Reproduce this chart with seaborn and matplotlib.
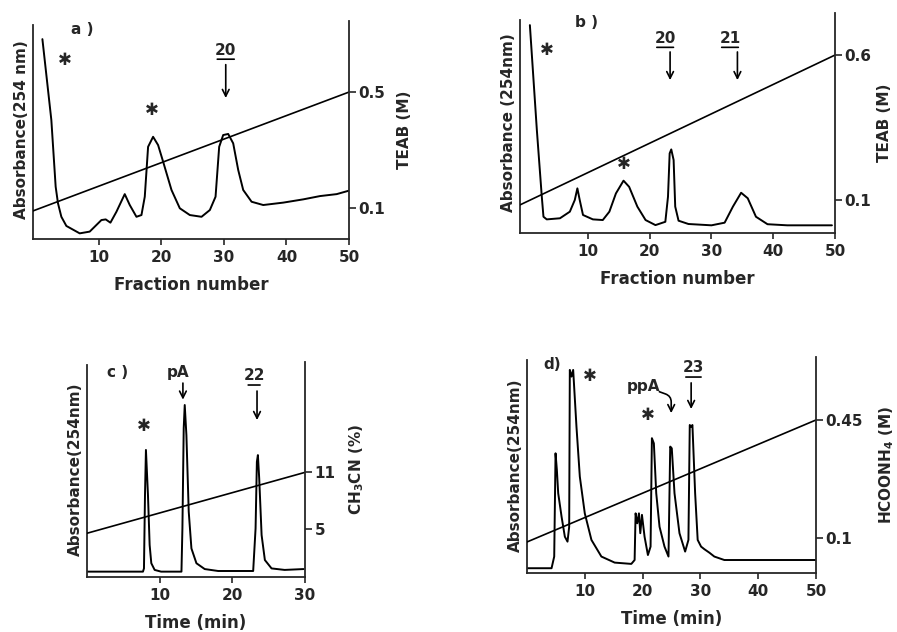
import numpy as np
import pandas as pd
import seaborn as sns
import matplotlib.pyplot as plt

# ---- panel a: fraction number vs absorbance, TEAB gradient
a_frac = [1.0, 2.43, 3.12, 3.49, 4.03, 4.83, 6.96, 8.56, 10.43, 11.12, 11.87, 12.83, 14.16,
          14.96, 16.03, 16.83, 17.36, 17.89, 18.69, 19.49, 20.29, 21.63, 22.96, 24.56,
          26.43, 27.76, 28.67, 29.25, 29.89, 30.69, 31.49, 32.29, 33.09, 34.43, 36.29,
          39.49, 42.69, 45.36, 48.03, 50.0]
a_abs = [91.7, 54.6, 24.0, 16.4, 10.2, 6.0, 2.6, 3.4, 8.7, 9.0, 7.5, 12.5, 20.6,
         15.6, 10.2, 11.0, 19.4, 42.3, 46.9, 43.1, 35.5, 22.5, 14.1, 11.0,
         10.2, 13.3, 19.4, 42.3, 47.7, 48.2, 43.9, 31.7, 22.5, 17.1, 15.6,
         16.7, 18.2, 19.7, 20.6, 22.2]
a_grad_x = [-0.5, 50]
a_grad_y = [0.09, 0.5]

# ---- panel b
b_frac = [0.6, 1.73, 2.53, 2.8, 3.33, 5.47, 7.07, 7.87, 8.29, 8.67, 9.2, 10.8, 12.4,
          13.47, 14.53, 15.76, 16.67, 18.0, 19.33, 20.93, 22.53, 22.96, 23.23, 23.49,
          23.87, 24.13, 24.67, 26.27, 30.0, 32.13, 33.47, 34.8, 35.87, 37.2, 39.07,
          42.27, 49.5]
b_abs = [94.5, 46.8, 16.5, 7.4, 6.2, 6.7, 9.7, 15.0, 20.3, 15.0, 8.2, 6.2, 5.9,
         9.7, 18.0, 23.8, 21.0, 12.0, 5.9, 3.6, 5.1, 16.5, 36.2, 38.0,
         33.2, 12.0, 5.6, 4.1, 3.5, 4.7, 12.0, 18.3, 15.8, 7.4, 4.0,
         3.5, 3.5]
b_grad_x = [-1, 50]
b_grad_y = [0.083, 0.6]

# ---- panel c: HPLC, CH3CN gradient
c_time = [0, 7.7, 7.84, 7.98, 8.11, 8.39, 8.62, 8.85, 9.31, 10.2, 13.0, 13.13, 13.31, 13.45,
          13.68, 14.0, 14.37, 15.06, 16.2, 18.05, 22.87, 23.2, 23.38, 23.52, 23.7, 24.03,
          24.48, 25.4, 27.2, 29.8]
c_abs = [2.5, 2.5, 4.0, 38.1, 59.1, 38.1, 14.9, 6.4, 3.3, 2.5, 2.5, 22.6, 69.2, 80.0,
         66.0, 30.4, 13.3, 6.4, 3.7, 2.8, 2.8, 22.6, 53.6, 56.7, 45.9, 19.5,
         7.9, 4.0, 3.3, 3.7]
c_grad_x = [0, 30]
c_grad_y = [4.6, 11]

# ---- panel d: HPLC, HCOONH4 gradient
d_time = [0, 4.25, 4.71, 4.94, 5.17, 5.4, 5.98, 6.55, 7.01, 7.3, 7.41, 7.7, 7.99, 8.56,
          9.14, 10.0, 11.15, 12.87, 15.17, 18.05, 18.62, 18.79, 19.08, 19.37, 19.6,
          19.89, 20.34, 20.92, 21.38, 21.61, 21.95, 22.36, 22.93, 23.79, 24.48, 24.78,
          25.05, 25.52, 26.38, 27.36, 27.93, 28.16, 28.4, 28.62, 29.09, 29.53, 30.12,
          30.69, 31.55, 32.41, 34.14, 50]
d_abs = [2.2, 2.2, 7.6, 55.4, 47.7, 36.9, 26.1, 16.8, 14.5, 21.4, 94.0, 90.9, 94.0, 67.7,
         44.6, 27.6, 15.3, 7.6, 4.8, 4.2, 6.0, 27.6, 23.0, 27.6, 18.4,
         26.9, 16.8, 8.3, 12.2, 62.4, 60.0, 36.9, 21.4, 12.2, 7.6, 58.5,
         57.7, 36.9, 18.4, 9.9, 15.3, 68.5, 67.7, 68.5, 36.9, 15.3, 12.2,
         11.0, 9.4, 7.6, 6.0, 6.0]
d_grad_x = [0, 50]
d_grad_y = [0.088, 0.45]

sns.set_style("ticks")
plt.rcParams['font.family'] = ['DejaVu Sans']
plt.rcParams['font.weight'] = 'bold'
FS = 11

fig = plt.figure(figsize=(8.97, 6.32), dpi=100)


def panel(rect, x, y, gx, gy, xlim, rlim, xticks, rticks, rticklabels,
          xlabel, ylabel, rlabel, left_top, rpad):
    ax = fig.add_axes(rect)
    sns.lineplot(x=x, y=y, ax=ax, color='black', lw=1.4, sort=False, estimator=None)
    ax.set_xlim(*xlim)
    ax.set_ylim(0, 100)
    ax.set_xticks(xticks)
    ax.set_xticklabels([str(t) for t in xticks], fontsize=FS, fontweight='bold')
    ax.tick_params(axis='x', direction='out', length=4, width=1.2, pad=4)
    ax.set_yticks([])
    ax.set_xlabel(xlabel, fontsize=FS + 1, fontweight='bold', labelpad=8)
    ax.set_ylabel(ylabel, fontsize=FS, fontweight='bold', labelpad=3)
    for s in ['top', 'right']:
        ax.spines[s].set_visible(False)
    ax.spines['left'].set_bounds(0, left_top)
    for s in ['left', 'bottom']:
        ax.spines[s].set_linewidth(1.3)

    # gradient on the right-hand axis
    ax2 = ax.twinx()
    sns.lineplot(x=gx, y=gy, ax=ax2, color='black', lw=1.2)
    ax2.set_ylim(*rlim)
    ax2.set_yticks(rticks)
    ax2.set_yticklabels(rticklabels, fontsize=FS, fontweight='bold')
    ax2.tick_params(axis='y', direction='out', length=5, width=1.2, pad=2)
    ax2.set_ylabel(rlabel, fontsize=FS, fontweight='bold', labelpad=rpad)
    for s in ['top', 'left', 'bottom']:
        ax2.spines[s].set_visible(False)
    ax2.spines['right'].set_linewidth(1.3)
    return ax


def star(ax, x, y):
    ax.text(x, y, "\u2731", fontsize=12, ha='center', va='center')


def label_arrow(ax, text, x, y, ax_x, y0, y1, underline=True, width=1.8):
    ax.text(x, y, text, fontsize=FS, fontweight='bold', ha='center', va='center')
    if underline:
        ax.annotate("", xy=(x - width, y - 4.2), xytext=(x + width, y - 4.2),
                    arrowprops=dict(arrowstyle='-', lw=1.2, color='black'))
    ax.annotate("", xy=(ax_x, y1), xytext=(ax_x, y0),
                arrowprops=dict(arrowstyle='->', lw=1.2, color='black',
                                shrinkA=0, shrinkB=0, mutation_scale=12))


# a)
ax = panel([0.0368, 0.6218, 0.3523, 0.3449], a_frac, a_abs, a_grad_x, a_grad_y,
           (-0.5, 50), (-0.007, 0.745), [10, 20, 30, 40, 50], [0.1, 0.5],
           ["0.1", "0.5"], "Fraction number", "Absorbance(254 nm)", "TEAB (M)", 98, 8)
ax.text(7.4, 95.9, "a )", fontsize=FS, fontweight='bold', ha='center', va='center')
star(ax, 4.6, 82)
star(ax, 18.5, 59)
label_arrow(ax, "20", 30.3, 86.7, 30.3, 80, 64.7)

# b)
ax = panel([0.5797, 0.6313, 0.3512, 0.3481], b_frac, b_abs, b_grad_x, b_grad_y,
           (-1, 50), (-0.014, 0.745), [10, 20, 30, 40, 50], [0.1, 0.6],
           ["0.1", "0.6"], "Fraction number", "Absorbance (254nm)", "TEAB (M)", 97, 4)
ax.text(9.8, 95.5, "b )", fontsize=FS, fontweight='bold', ha='center', va='center')
star(ax, 3.4, 83.2)
star(ax, 15.8, 31.4)
label_arrow(ax, "20", 22.5, 88.6, 23.3, 82.3, 69.5)
label_arrow(ax, "21", 33.0, 88.6, 34.2, 82.3, 69.5)

# c)
ax = panel([0.0970, 0.0870, 0.2430, 0.3402], c_time, c_abs, c_grad_x, c_grad_y,
           (0, 30), (0, 22.6), [10, 20, 30], [5, 11], ["5", "11"],
           "Time (min)", "Absorbance(254nm)", "CH$_3$CN (%)", 98.6, 8)
ax.text(4.2, 95.3, "c )", fontsize=FS, fontweight='bold', ha='center', va='center')
star(ax, 7.8, 70.2)
label_arrow(ax, "pA", 12.6, 95.3, 13.2, 90.2, 82.5, underline=False)
label_arrow(ax, "22", 23.0, 93.5, 23.4, 86.5, 73, width=1.2)

# d)
ax = panel([0.5875, 0.0934, 0.3222, 0.3418], d_time, d_abs, d_grad_x, d_grad_y,
           (0, 50), (-0.004, 0.637), [10, 20, 30, 40, 50], [0.1, 0.45],
           ["0.1", "0.45"], "Time (min)", "Absorbance(254nm)", "HCOONH$_4$ (M)", 98.6, 10)
ax.text(4.3, 96.3, "d)", fontsize=FS, fontweight='bold', ha='center', va='center')
star(ax, 10.9, 91.2)
star(ax, 21.0, 73.1)
ax.text(20.2, 86.1, "ppA", fontsize=FS, fontweight='bold', ha='center', va='center')
ax.annotate("", xy=(24.95, 74), xytext=(22.9, 83.9),
            arrowprops=dict(arrowstyle='->', lw=1.2, color='black', shrinkA=0, shrinkB=0,
                            mutation_scale=12,
                            connectionstyle="angle,angleA=-20,angleB=90,rad=6"))
label_arrow(ax, "23", 28.8, 94.9, 28.4, 88, 75.9)

plt.savefig("out.png", dpi=100)
